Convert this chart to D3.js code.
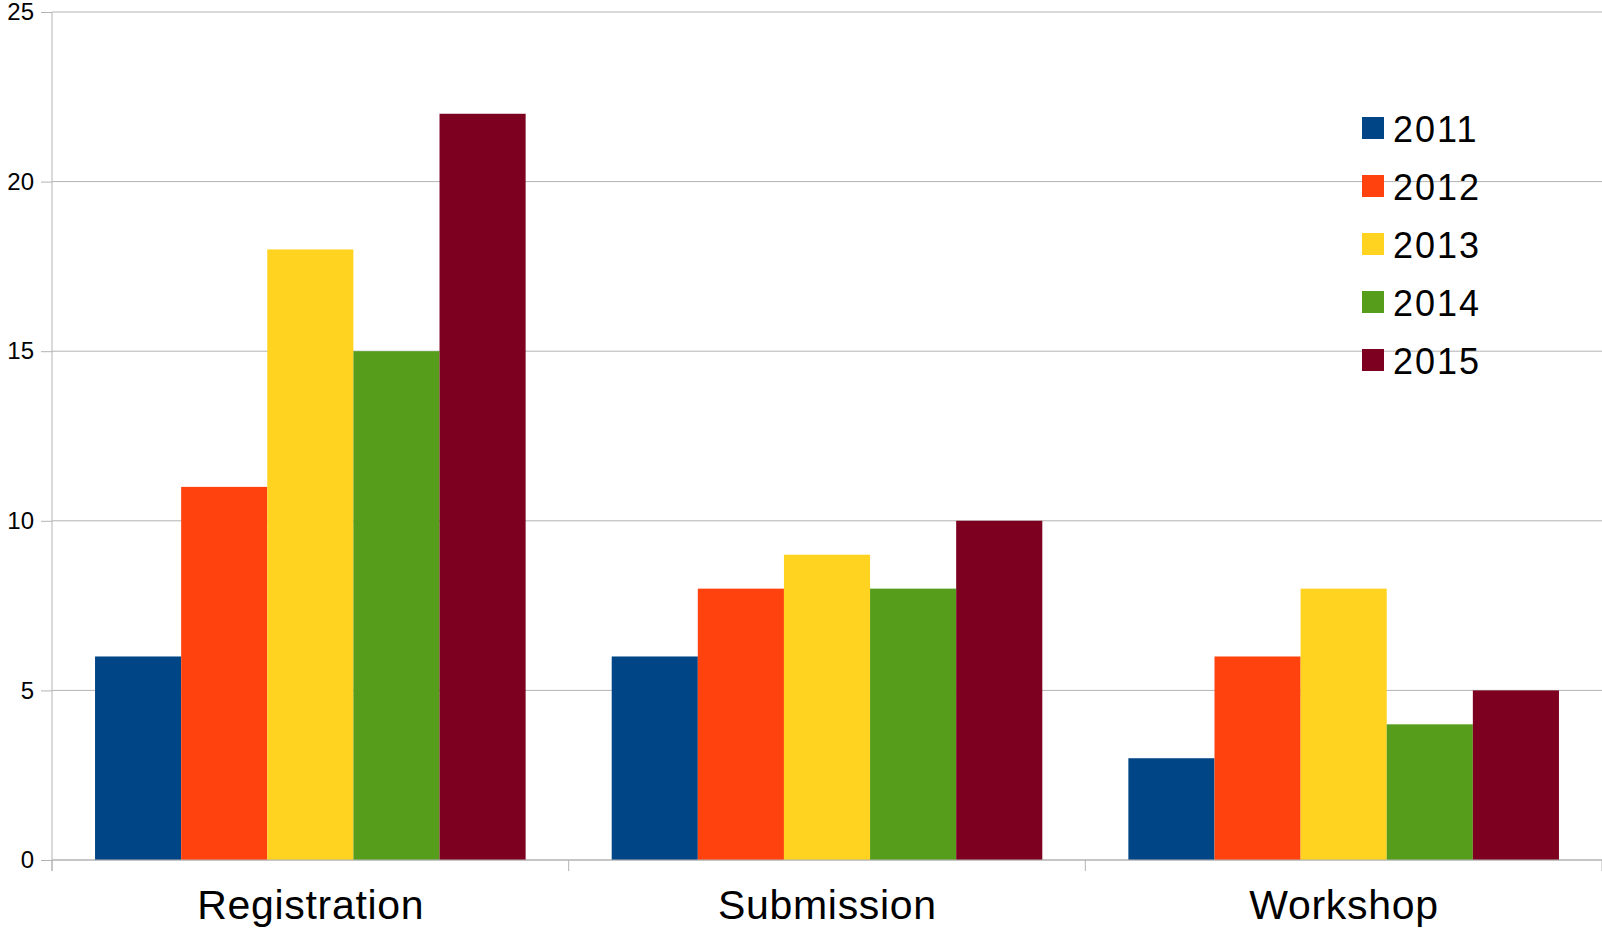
<!DOCTYPE html>
<html>
<head>
<meta charset="utf-8">
<script src="https://cdn.jsdelivr.net/npm/d3@7"></script>
<style>
  body { margin: 0; background: #fff; }
  text { font-family: "Liberation Sans", Arial, sans-serif; fill: #000; }
</style>
</head>
<body>
<div id="chart"></div>
<script>
// data
var categories = ["Registration", "Submission", "Workshop"];
var years = ["2011", "2012", "2013", "2014", "2015"];
var values2011 = [6, 6, 3];
var values2012 = [11, 8, 6];
var values2013 = [18, 9, 8];
var values2014 = [15, 8, 4];
var values2015 = [22, 10, 5];
var yTicks = [0, 5, 10, 15, 20, 25];
var colors = ["#004586", "#ff420e", "#ffd320", "#579d1c", "#7e0021"];

var seriesValues = [values2011, values2012, values2013, values2014, values2015];

var svgWidth = 1602;
var svgHeight = 933;
var margins = { top: 12, bottom: 73, left: 52, right: 0 };
var width = svgWidth - margins.left - margins.right;
var height = svgHeight - margins.top - margins.bottom;

var svg = d3.select("#chart").append("svg").attr("width", svgWidth).attr("height", svgHeight);
var chartGroup = svg.append("g").attr("transform", `translate(${margins.left},${margins.top})`);

var x0 = d3.scaleBand().domain(categories).range([0, width]).padding(0);
var gap = x0.bandwidth() * 0.0833;
var x1 = d3.scaleBand().domain(years).range([gap, x0.bandwidth() - gap]).padding(0);
var y = d3.scaleLinear().domain([0, 25]).range([height, 0]);

// gridlines
chartGroup.selectAll(".grid")
    .data(yTicks)
    .enter()
    .append("line")
    .attr("x1", 0)
    .attr("x2", width)
    .attr("y1", d => y(d))
    .attr("y2", d => y(d))
    .attr("stroke", "#b3b3b3")
    .attr("stroke-width", 1);

// bars
var rows = [];
categories.forEach(function(c, i) {
    years.forEach(function(yr, j) {
        rows.push({ cat: c, year: yr, value: seriesValues[j][i], color: colors[j] });
    });
});

chartGroup.selectAll("rect.bar")
    .data(rows)
    .enter()
    .append("rect")
    .attr("class", "bar")
    .attr("x", d => x0(d.cat) + x1(d.year))
    .attr("y", d => y(d.value))
    .attr("width", x1.bandwidth())
    .attr("height", d => height - y(d.value))
    .attr("fill", d => d.color);

// y axis
var leftAxis = d3.axisLeft(y).tickValues(yTicks).tickSize(11).tickPadding(7);
var yAxis = chartGroup.append("g").call(leftAxis);
yAxis.select(".domain").attr("stroke", "#b3b3b3").attr("d", `M0,${height + 11}V0`);
yAxis.selectAll(".tick line").attr("stroke", "#b3b3b3");
yAxis.selectAll(".tick text").style("font-size", "24px").attr("fill", "#000");

// x axis
var xTickPos = [0, x0.step(), 2 * x0.step(), width];
var xAxisG = chartGroup.append("g").attr("transform", `translate(0, ${height})`);
xAxisG.append("line").attr("x1", 0).attr("x2", width).attr("stroke", "#b3b3b3");
xAxisG.selectAll(".xtick")
    .data(xTickPos)
    .enter()
    .append("line")
    .attr("x1", d => d).attr("x2", d => d)
    .attr("y1", 0).attr("y2", 11)
    .attr("stroke", "#b3b3b3");
xAxisG.selectAll(".xlabel")
    .data(categories)
    .enter()
    .append("text")
    .attr("x", d => x0(d) + x0.bandwidth() / 2 + 0.4)
    .attr("y", 59)
    .attr("text-anchor", "middle")
    .style("font-size", "41px")
    .style("letter-spacing", "0.7px")
    .text(d => d);

// legend
var legend = svg.append("g").attr("transform", "translate(1362, 117)");
var legendItems = legend.selectAll("g")
    .data(years)
    .enter()
    .append("g")
    .attr("transform", (d, i) => `translate(0, ${i * 58})`);
legendItems.append("rect")
    .attr("width", 22)
    .attr("height", 22)
    .attr("fill", (d, i) => colors[i]);
legendItems.append("text")
    .attr("x", 31)
    .attr("y", 25)
    .style("font-size", "36px")
    .style("letter-spacing", "2px")
    .text(d => d);
</script>
</body>
</html>
